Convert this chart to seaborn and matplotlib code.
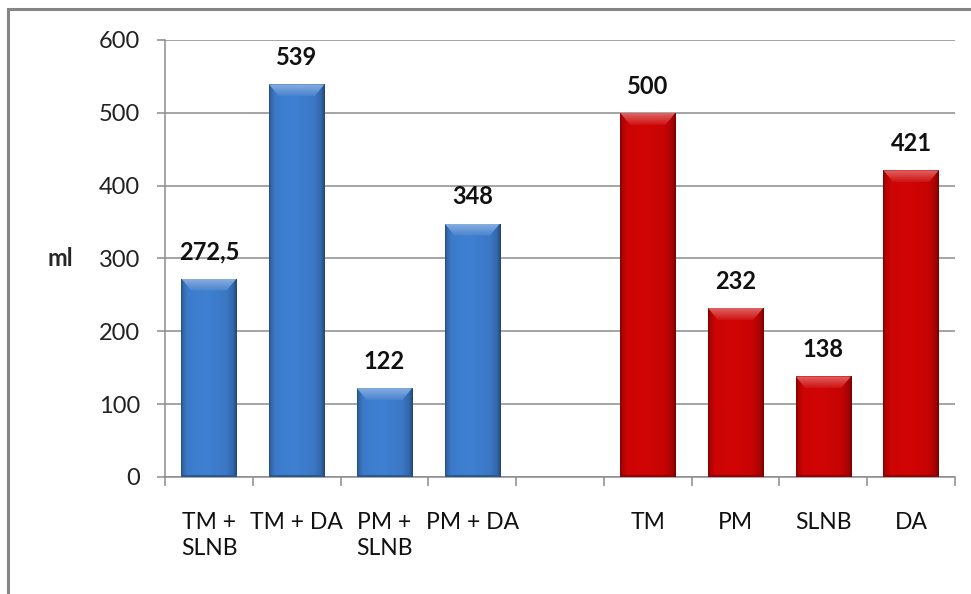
import numpy as np
import pandas as pd
import seaborn as sns
import matplotlib.pyplot as plt
from matplotlib.colors import to_rgb
from matplotlib.patches import Polygon, Rectangle

# Drain volumes (ml) per surgical procedure
categories = ["TM +\nSLNB", "TM + DA", "PM +\nSLNB", "PM + DA", " ",
              "TM", "PM", "SLNB", "DA"]
volumes = [272.5, 539, 122, 348, np.nan, 500, 232, 138, 421]
value_labels = ["272,5", "539", "122", "348", "", "500", "232", "138", "421"]
groups = ["combined"] * 4 + ["gap"] + ["single"] * 4
y_ticks = [0, 100, 200, 300, 400, 500, 600]

palette = {"combined": "#3d7ccc", "single": "#cc0404", "gap": "#ffffff"}

df = pd.DataFrame({"procedure": categories, "volume": volumes, "group": groups})

sns.set_theme(style="white")
plt.rcParams["font.family"] = ["Lato", "DejaVu Sans"]

fig = plt.figure(figsize=(9.71, 5.94), dpi=100)
ax = fig.add_axes([0.170, 0.197, 0.8135, 0.7357])

sns.barplot(data=df, x="procedure", y="volume", hue="group", order=categories,
            palette=palette, dodge=False, width=0.63, legend=False,
            saturation=1, linewidth=0, ax=ax, zorder=3)

ax.set_xlim(-0.5, len(categories) - 0.5)
ax.set_ylim(0, 600)
ax.set_yticks(y_ticks)
ax.set_yticklabels([str(v) for v in y_ticks])

grey = "#8c8c8c"
ax.yaxis.grid(True, color=grey, linewidth=1.1, zorder=0)
ax.xaxis.grid(False)
for side in ["top", "right"]:
    ax.spines[side].set_visible(False)
for side in ["left", "bottom"]:
    ax.spines[side].set_color(grey)
    ax.spines[side].set_linewidth(1.1)

# tick marks sit between categories, labels sit under the bars
ax.set_xticks(np.arange(len(categories)))
ax.set_xticklabels(categories, fontsize=16.5, linespacing=1.32, va="top")
ax.set_xticks(np.arange(-0.5, len(categories)), minor=True)
ax.tick_params(axis="x", which="major", length=0, pad=25)
ax.tick_params(axis="x", which="minor", length=6.5, width=1.1, color=grey,
               direction="out", bottom=True)
ax.tick_params(axis="y", length=6, width=1.1, color=grey, direction="out",
               left=True, labelsize=17, pad=12)
for lab in ax.get_yticklabels():
    lab.set_color("#222222")
for lab in ax.get_xticklabels():
    lab.set_color("#111111")

ax.set_xlabel("")
ax.set_ylabel("ml", rotation=0, fontsize=17, fontweight="bold", ha="center", va="center")
ax.yaxis.set_label_coords(-0.133, 0.5)

# bevelled shading on every bar
def shade(c, f):
    c = np.array(c)
    return np.clip(c * f, 0, 1)

def lighten(c, f):
    c = np.array(c)
    return np.clip(c + (1 - c) * f, 0, 1)

px_y = 600 / (0.7357 * 594)      # data units per pixel, vertical
px_x = 9 / (0.8135 * 971)        # data units per pixel, horizontal

xs = np.linspace(0, 1, 200)
for patch in list(ax.patches):
    h = patch.get_height()
    if not np.isfinite(h) or h <= 0:
        continue
    base = to_rgb(patch.get_facecolor())
    x0, w = patch.get_x(), patch.get_width()
    x1 = x0 + w
    # horizontal profile: dark rim, brighter body, dark right rim
    prof = np.interp(xs, [0, 0.04, 0.12, 0.45, 0.8, 0.94, 1.0],
                     [0.62, 0.85, 1.0, 1.03, 0.97, 0.82, 0.55])
    img = np.array([shade(base, f) for f in prof])[None, :, :]
    img = np.repeat(img, 2, axis=0)
    im = ax.imshow(img, extent=[x0, x1, 0, h], aspect="auto",
                   interpolation="bilinear", zorder=4)
    im.set_clip_path(patch)
    # darker strip along the base
    ax.add_patch(Rectangle((x0, 0), w, 2.2 * px_y, color=shade(base, 0.7),
                           lw=0, zorder=5))
    # lighter top bevel, fading downwards
    bh = 12 * px_y
    ins = 10 * px_x
    bevel = Polygon([[x0, h], [x1, h], [x1 - ins, h - bh], [x0 + ins, h - bh]],
                    closed=True, facecolor="none", lw=0, zorder=5)
    ax.add_patch(bevel)
    ys = np.linspace(0, 1, 30)
    col = np.array([lighten(base, 0.32 * (1 - t) + 0.06) for t in ys])
    bimg = np.repeat(col[:, None, :], 2, axis=1)
    bim = ax.imshow(bimg, extent=[x0, x1, h - bh, h], origin="upper",
                    aspect="auto", interpolation="bilinear", zorder=5)
    bim.set_clip_path(bevel)

# value labels above the bars
for i, (v, txt) in enumerate(zip(volumes, value_labels)):
    if not np.isfinite(v):
        continue
    ax.annotate(txt, (i, v), xytext=(0, 11), textcoords="offset points",
                ha="center", va="bottom", fontsize=17, fontweight="bold",
                color="#111111", zorder=6)

ax.set_xlim(-0.5, len(categories) - 0.5)
ax.set_ylim(0, 600)

# chart frame
fig.add_artist(Rectangle((8 / 971, -0.05), 1.2, 1 - 9 / 594 + 0.05,
                         transform=fig.transFigure, fill=False,
                         edgecolor="#868686", linewidth=2.2))

fig.savefig("out.png", dpi=100)
